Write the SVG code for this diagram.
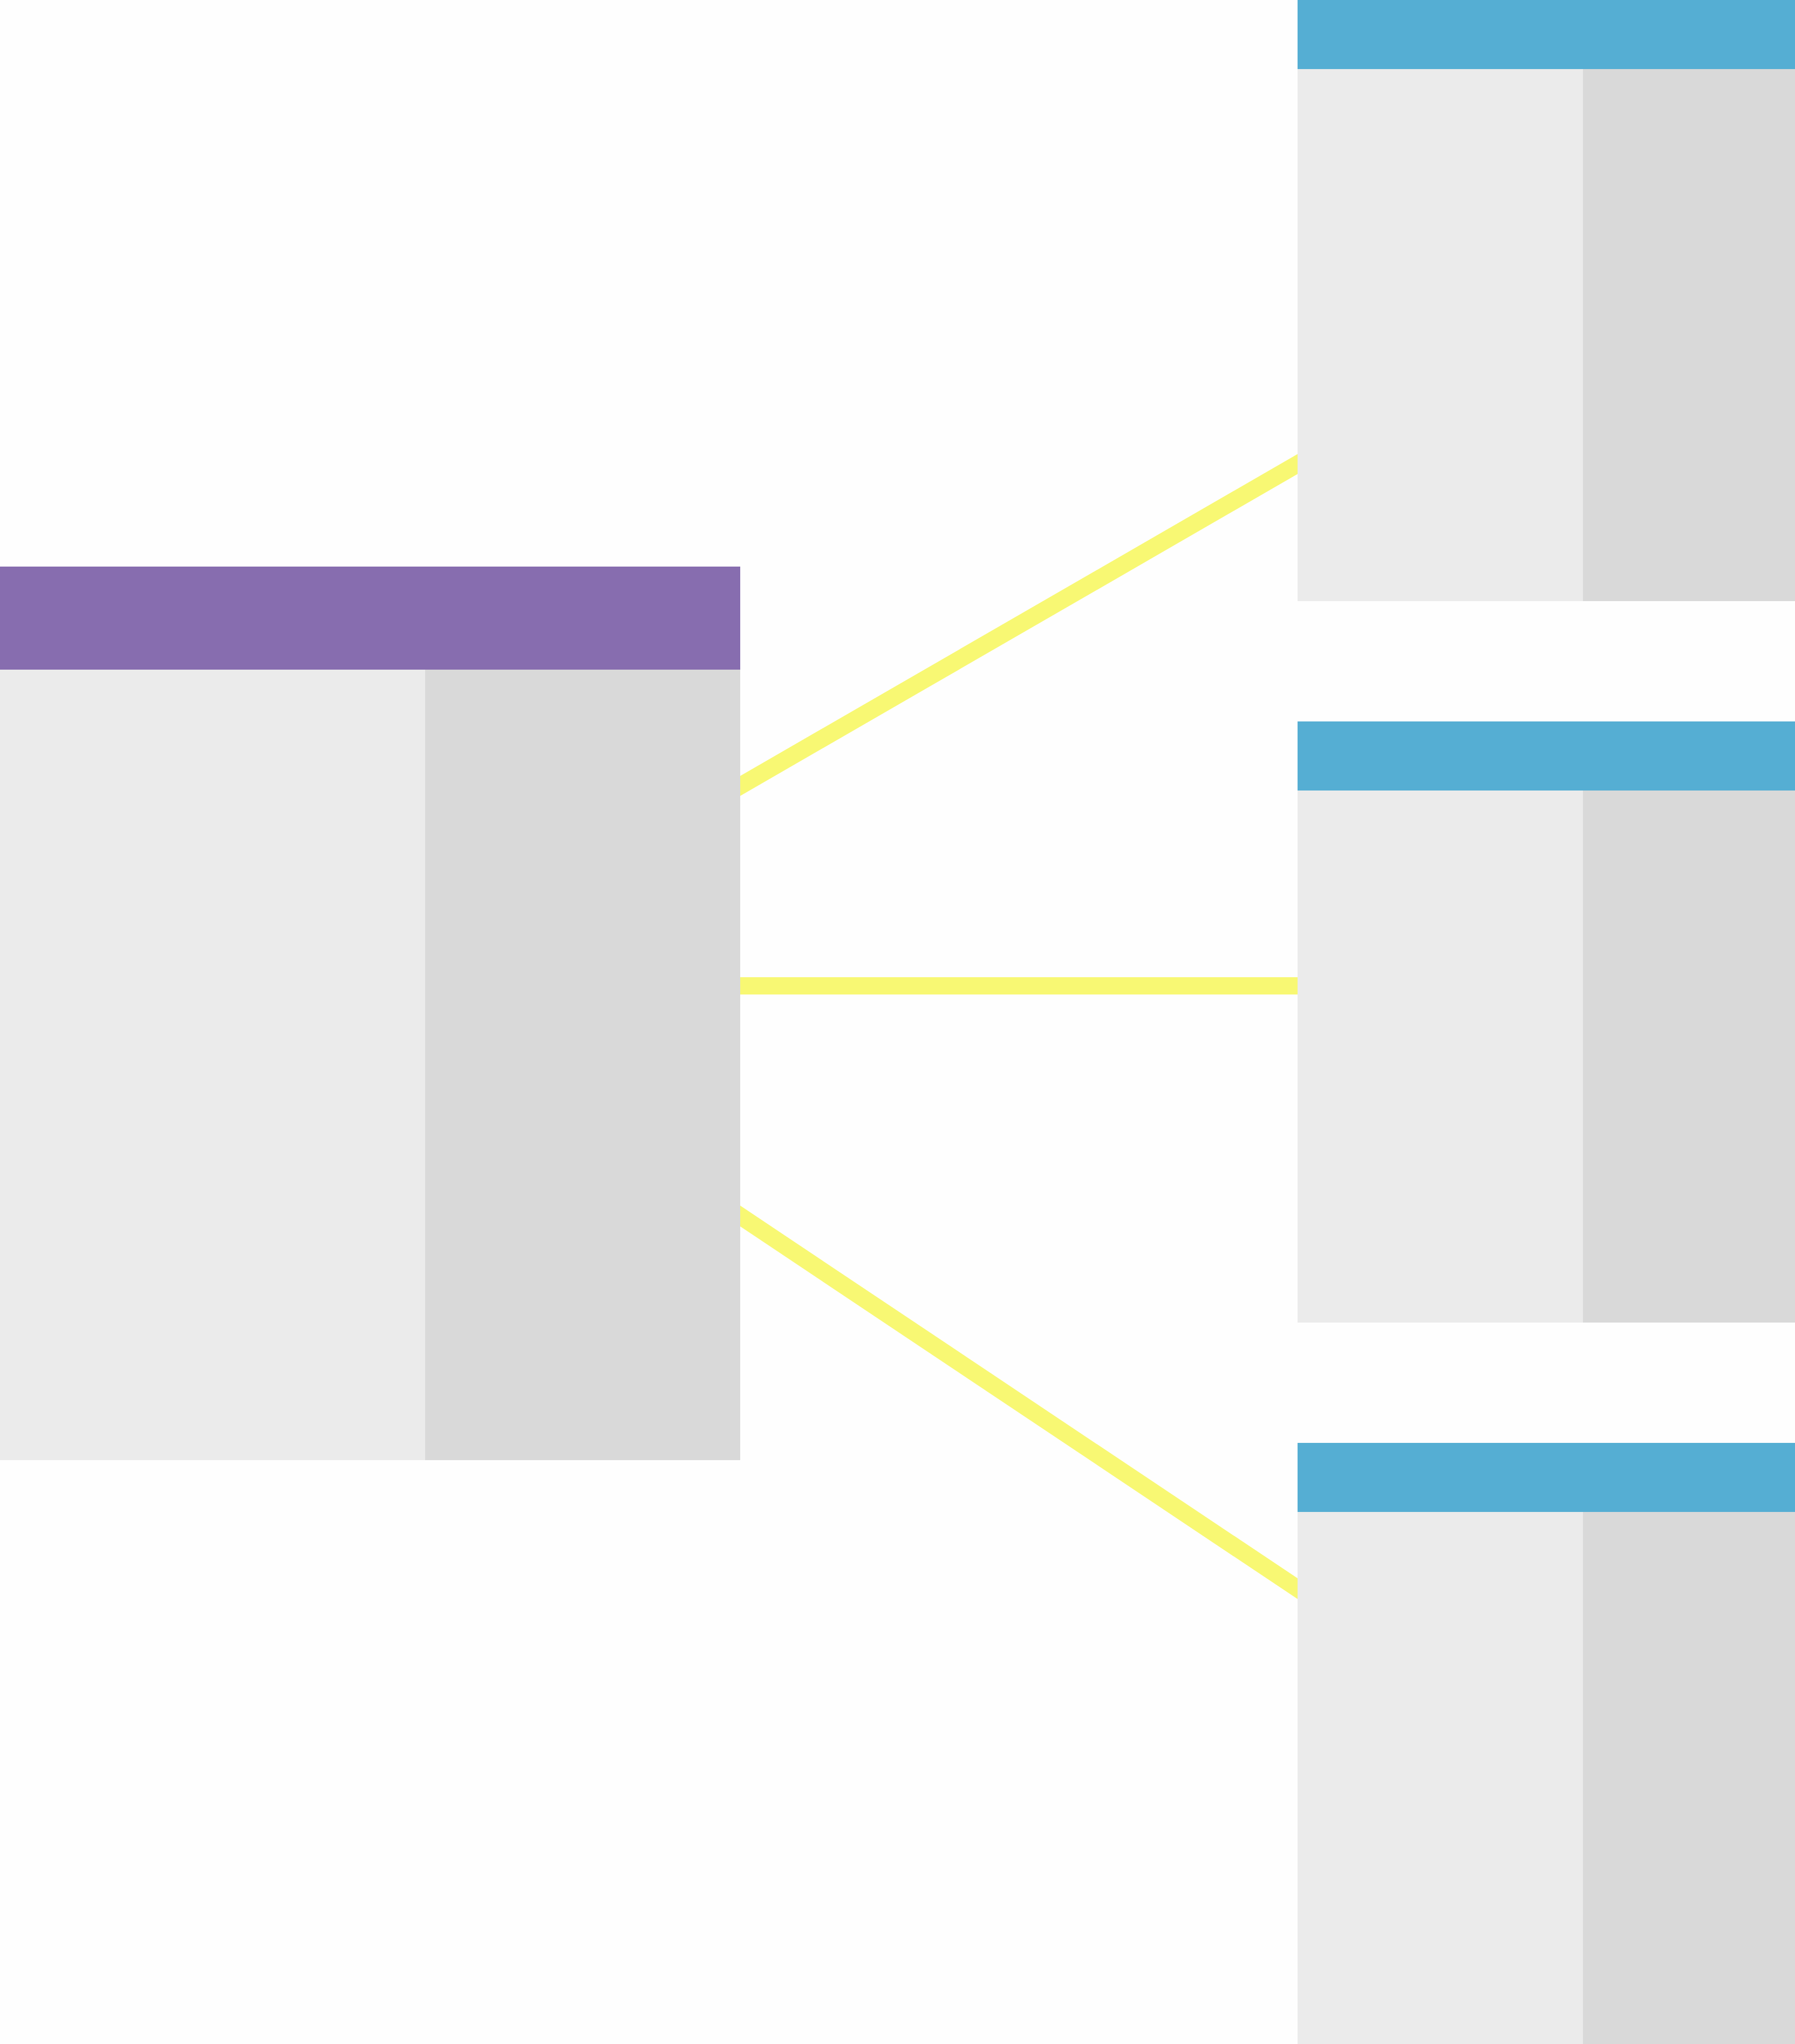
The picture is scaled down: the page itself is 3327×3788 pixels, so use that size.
<svg xmlns="http://www.w3.org/2000/svg" width="3327" height="3788" viewBox="0 0 3327 3788">
<style>
.bg{fill:#fefefe}
.hp{fill:#876daf}
.hb{fill:#55aed3}
.c1{fill:#ebebeb}
.c2{fill:#d9d9d9}
.conn{stroke:#f8f873;stroke-width:32;fill:none}
</style>
<rect class="bg" x="0" y="0" width="3327" height="3788"/>
<g id="connectors">
<line class="conn" x1="1300" y1="1498.1" x2="2480" y2="816.7"/>
<line class="conn" x1="1300" y1="1827" x2="2480" y2="1827"/>
<line class="conn" x1="1300" y1="2205.4" x2="2480" y2="2994.3"/>
</g>
<g id="node-main">
<rect class="hp" x="0" y="1050" width="1372" height="191"/>
<rect class="c1" x="0" y="1241" width="788" height="1465"/>
<rect class="c2" x="788" y="1241" width="584" height="1465"/>
</g>
<g id="node-1">
<rect class="hb" x="2405" y="0" width="922" height="128"/>
<rect class="c1" x="2405" y="128" width="529" height="986"/>
<rect class="c2" x="2934" y="128" width="393" height="986"/>
</g>
<g id="node-2">
<rect class="hb" x="2405" y="1337" width="922" height="128"/>
<rect class="c1" x="2405" y="1465" width="529" height="986"/>
<rect class="c2" x="2934" y="1465" width="393" height="986"/>
</g>
<g id="node-3">
<rect class="hb" x="2405" y="2674" width="922" height="128"/>
<rect class="c1" x="2405" y="2802" width="529" height="986"/>
<rect class="c2" x="2934" y="2802" width="393" height="986"/>
</g>
</svg>
